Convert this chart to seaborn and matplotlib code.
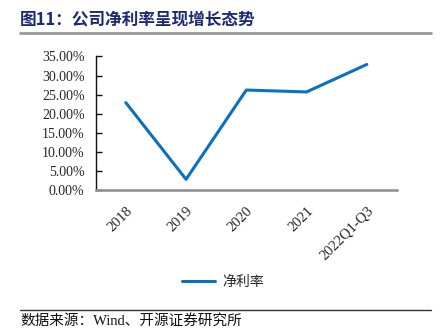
import matplotlib
matplotlib.use("Agg")
import matplotlib.pyplot as plt
import seaborn as sns
import pandas as pd
from matplotlib.lines import Line2D
from matplotlib.ticker import FuncFormatter, FixedLocator

# Net profit margin by period (%)
periods = ["2018", "2019", "2020", "2021", "2022Q1-Q3"]
net_margin = [22.9, 2.8, 26.2, 25.7, 32.9]
series_name = "净利率"
title_text = "图11：公司净利率呈现增长态势"
source_text = "数据来源：Wind、开源证券研究所"

sns.set_theme(style="white")
plt.rcParams["font.family"] = ["Liberation Serif", "Noto Sans CJK SC", "DejaVu Sans"]

df = pd.DataFrame({"period": periods, "value": net_margin})

fig = plt.figure(figsize=(4.41, 3.34), dpi=100)
ax = fig.add_axes([0.217, 0.431, 0.683, 0.40])

line_color = "#0A70C2"
sns.lineplot(data=df, x="period", y="value", ax=ax, color=line_color,
             linewidth=2.2, sort=False, legend=False)

ax.set_xlim(-0.5, len(periods) - 0.5)
ax.set_ylim(0, 35)
ax.yaxis.set_major_locator(FixedLocator([0, 5, 10, 15, 20, 25, 30, 35]))
ax.yaxis.set_major_formatter(FuncFormatter(lambda v, p: f"{v:.2f}%"))
ax.set_xlabel("")
ax.set_ylabel("")

# category labels at centers, tick marks on category boundaries
ax.set_xticks(range(len(periods)))
ax.set_xticklabels(periods, rotation=45, ha="right", va="top",
                   rotation_mode="anchor", fontsize=10.5,
                   family=["Liberation Serif"])
ax.set_xticks([i + 0.5 for i in range(len(periods))], minor=True)
ax.tick_params(axis="x", which="major", length=0, pad=10)
ax.tick_params(axis="x", which="minor", direction="in", length=4,
               width=1, color="#333333")
ax.tick_params(axis="y", direction="in", length=4, width=1,
               color="#111111", labelsize=10, pad=8, left=True)
for lab in ax.get_yticklabels():
    lab.set_family(["Liberation Serif"])

for s in ["top", "right"]:
    ax.spines[s].set_visible(False)
ax.spines["left"].set_color("#111111")
ax.spines["left"].set_linewidth(1.0)
ax.spines["bottom"].set_color("#8C8C8C")
ax.spines["bottom"].set_linewidth(1.8)
ax.grid(False)

# legend below the plot
handle = Line2D([0], [0], color=line_color, linewidth=2.2)
fig.legend([handle], [series_name], loc="center",
           bbox_to_anchor=(223 / 441, 1 - 282 / 334), frameon=False,
           handlelength=2.4, handletextpad=0.5,
           prop={"family": ["Noto Sans CJK SC"], "size": 10})

# title and rule
fig.text(20 / 441, 1 - 20 / 334, title_text, ha="left", va="center",
         fontsize=12, fontweight="bold", color="#1B2A72",
         family=["Noto Sans CJK SC"])
fig.add_artist(Line2D([20 / 441, 431 / 441], [1 - 33 / 334, 1 - 33 / 334],
                      color="#999999", linewidth=2.0,
                      transform=fig.transFigure))

# footer rule and source
fig.add_artist(Line2D([20 / 441, 431 / 441], [1 - 310 / 334, 1 - 310 / 334],
                      color="#333333", linewidth=1.0,
                      transform=fig.transFigure))
fig.text(20 / 441, 1 - 321 / 334, source_text, ha="left", va="center",
         fontsize=10.5, color="#111111",
         family=["Liberation Serif", "Noto Sans CJK SC"])

fig.savefig("out.png", dpi=100, facecolor="white")
